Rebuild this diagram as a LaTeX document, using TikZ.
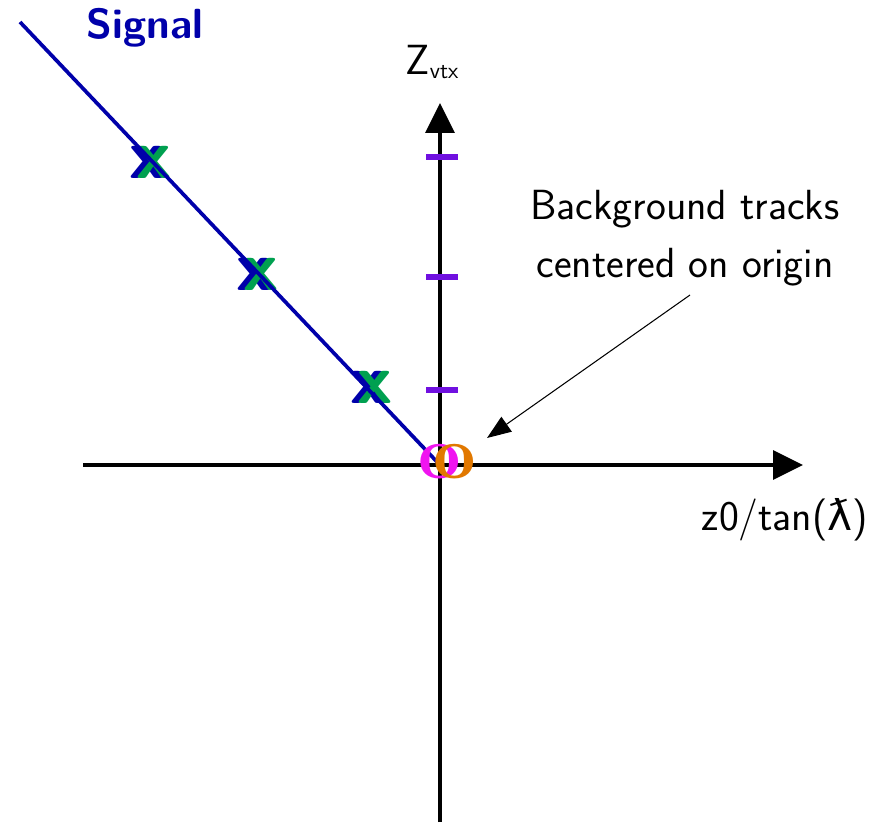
\documentclass[tikz,border=0pt]{standalone}
\usepackage{fontspec}
\newfontfamily\lamfont{DejaVu Sans}
\usetikzlibrary{arrows.meta}
\definecolor{sigblue}{RGB}{0,0,170}
\definecolor{hitgreen}{RGB}{0,160,80}
\definecolor{tickviolet}{RGB}{112,16,224}
\definecolor{bgmagenta}{RGB}{240,20,240}
\definecolor{bgorange}{RGB}{225,120,0}
\tikzset{
	axis/.style={line width=1.8pt,-{Triangle[length=0.6cm,width=0.58cm]}},
	tick/.style={tickviolet,line width=3.2pt},
	lbl/.style={font=\sffamily\fontsize{24}{28}\selectfont,inner sep=0pt},
	hit/.style={font=\sffamily\bfseries\fontsize{40}{42}\selectfont,inner sep=0pt},
	bg/.style={font=\rmfamily\bfseries\fontsize{43}{45}\selectfont,inner sep=0pt}
}
\begin{document}
\begin{tikzpicture}[x=0.02cm,y=-0.02cm]
	\useasboundingbox (0,0) rectangle (875,822);
	% axes
	\coordinate (o) at (440,465);
	\coordinate (xl) at (83,465);
	\coordinate (xr) at (803,465);
	\coordinate (yb) at (440,822);
	\coordinate (yt) at (440,103);
	\draw[axis] (xl) -- (xr);
	\draw[axis] (yb) -- (yt);
	\foreach \y in {157,277,390}
		\draw[tick] (426,\y) -- (458,\y);
	\node[lbl] (zvtx) at (432,62) {Z\raisebox{-0.25ex}{\fontsize{13}{15}\selectfont vtx}};
	\node[lbl] (xlab) at (785,520) {z0/tan({\lamfont ƛ})};
	% signal track
	\foreach \px/\py [count=\i] in {151/162,258/274,372/387} {
		\node[hit,sigblue] (hb\i) at (\px-4,\py) {x};
		\node[hit,hitgreen] at (\px+3,\py) {x};
	}
	\coordinate (sstart) at (20,22);
	\draw[sigblue,line width=2.1pt] (sstart) -- (o);
	\node[lbl,font=\sffamily\bfseries\fontsize{24}{28}\selectfont,sigblue] (sig) at (145,28) {Signal};
	% background
	\node[bg,bgmagenta] (bm) at (440,462) {o};
	\node[bg,bgorange] (bo) at (455,462) {o};
	\node[lbl,align=center,font=\sffamily\fontsize{24}{33}\selectfont] (btxt) at (685,238) {Background tracks\\centered on origin};
	\coordinate (bfrom) at (690,295);
	\draw[line width=0.6pt,-{Triangle[length=0.48cm,width=0.36cm]}] (bfrom) -- (487,438);
\end{tikzpicture}
\end{document}
